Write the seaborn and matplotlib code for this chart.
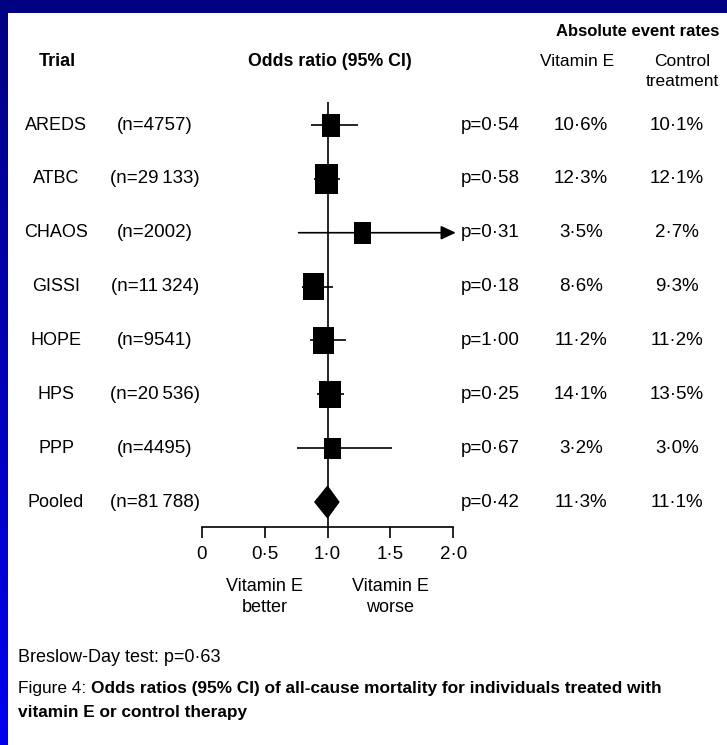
import numpy as np
import pandas as pd
import matplotlib
matplotlib.use("Agg")
import matplotlib.pyplot as plt
import matplotlib.transforms as mtransforms
from matplotlib.patches import Rectangle
from matplotlib.path import Path
from matplotlib.markers import MarkerStyle
from matplotlib.colors import LinearSegmentedColormap
import seaborn as sns

# ---------------- data ----------------
trials = ["AREDS", "ATBC", "CHAOS", "GISSI", "HOPE", "HPS", "PPP"]
n_labels = ["(n=4757)", "(n=29\u2009133)", "(n=2002)", "(n=11\u2009324)",
            "(n=9541)", "(n=20\u2009536)", "(n=4495)"]
odds_ratio = [1.03, 0.99, 1.28, 0.89, 0.97, 1.02, 1.04]
ci_low = [0.87, 0.89, 0.77, 0.80, 0.86, 0.92, 0.76]
ci_high = [1.24, 1.10, 2.60, 1.045, 1.15, 1.13, 1.51]
p_values = ["p=0\u00b754", "p=0\u00b758", "p=0\u00b731", "p=0\u00b718",
            "p=1\u00b700", "p=0\u00b725", "p=0\u00b767"]
rate_vitE = ["10\u00b76%", "12\u00b73%", "3\u00b75%", "8\u00b76%",
             "11\u00b72%", "14\u00b71%", "3\u00b72%"]
rate_ctrl = ["10\u00b71%", "12\u00b71%", "2\u00b77%", "9\u00b73%",
             "11\u00b72%", "13\u00b75%", "3\u00b70%"]

pooled_name = "Pooled"
pooled_n = "(n=81\u2009788)"
pooled_or = 1.00
pooled_low = 0.90
pooled_high = 1.09
pooled_p = "p=0\u00b742"
pooled_vitE = "11\u00b73%"
pooled_ctrl = "11\u00b71%"

x_ticks = [0, 0.5, 1.0, 1.5, 2.0]
x_tick_labels = ["0", "0\u00b75", "1\u00b70", "1\u00b75", "2\u00b70"]

# ---------------- styles ----------------
box_heights_px = [23, 30, 22, 27, 27, 27, 21]   # visual weight of each square
box_aspect = 0.78
diamond_half_h = 0.29
arrow_tip = 2.02
W, H = 727, 745
FONT = ["Liberation Sans Narrow", "Liberation Sans", "DejaVu Sans"]

sns.set_theme(style="white")
plt.rcParams["font.family"] = FONT
plt.rcParams["axes.unicode_minus"] = False
plt.rcParams["text.color"] = "black"

fig = plt.figure(figsize=(W / 100, H / 100), dpi=100)
fig.patch.set_facecolor("white")

# axes for the forest plot: x in odds ratio, y in row index
x0_px, x1_px = 201.7, 453.3
ytop_px, ybot_px = 102, 527
row0_px, row_step = 125, 53.86
ax = fig.add_axes([x0_px / W, 1 - ybot_px / H, (x1_px - x0_px) / W, (ybot_px - ytop_px) / H])
ax.patch.set_visible(False)

n_rows = len(trials) + 1
rows = np.arange(len(trials))
pooled_row = len(trials)

df = pd.DataFrame({"trial": trials, "or": odds_ratio, "row": rows,
                   "lo": ci_low, "hi": ci_high})

lw = 1.2
ax.axvline(1.0, color="black", lw=lw, zorder=1)

# confidence intervals
for r, lo, hi in zip(df["row"], df["lo"], df["hi"]):
    if hi > x_ticks[-1]:
        ax.annotate("", xy=(arrow_tip, r), xytext=(lo, r),
                    arrowprops=dict(arrowstyle="-|>,head_length=0.75,head_width=0.35",
                                    lw=lw, color="black", shrinkA=0, shrinkB=0,
                                    mutation_scale=12),
                    annotation_clip=False, zorder=2)
    else:
        ax.hlines(r, lo, hi, color="black", lw=lw, zorder=2)

# squares (seaborn scatter)
verts = [(-box_aspect / 2, -0.5), (box_aspect / 2, -0.5), (box_aspect / 2, 0.5),
         (-box_aspect / 2, 0.5), (-box_aspect / 2, -0.5)]
rect_marker = MarkerStyle(Path(verts, closed=True))
sizes = {t: (h * 0.72) ** 2 for t, h in zip(trials, box_heights_px)}
sns.scatterplot(data=df, x="or", y="row", size="trial", sizes=sizes,
                marker=rect_marker, color="black", edgecolor="black",
                linewidth=0, legend=False, ax=ax, zorder=3, clip_on=False)

# pooled diamond
ax.fill([pooled_low, pooled_or, pooled_high, pooled_or],
        [pooled_row, pooled_row - diamond_half_h, pooled_row, pooled_row + diamond_half_h],
        color="black", zorder=3, clip_on=False)

ax.set_xlim(x_ticks[0], x_ticks[-1])
ax.set_ylim((ybot_px - row0_px) / row_step, (ytop_px - row0_px) / row_step)
ax.set_xlabel("")
ax.set_ylabel("")
for s in ["top", "left", "right"]:
    ax.spines[s].set_visible(False)
ax.spines["bottom"].set_color("black")
ax.spines["bottom"].set_linewidth(lw)
ax.set_xticks(x_ticks)
ax.set_xticklabels(x_tick_labels)
ax.set_yticks([])
ax.tick_params(axis="x", direction="out", length=8, width=lw, pad=6,
               labelsize=13.5, colors="black", bottom=True)
ax.grid(False)

# text columns
trans = mtransforms.blended_transform_factory(fig.transFigure, ax.transData)
fs = 13.5
all_names = trials + [pooled_name]
all_n = n_labels + [pooled_n]
all_p = p_values + [pooled_p]
all_vE = rate_vitE + [pooled_vitE]
all_ct = rate_ctrl + [pooled_ctrl]
for i in range(n_rows):
    ax.text(56 / W, i, all_names[i], transform=trans, ha="center", va="center",
            fontsize=13, color="black", clip_on=False)
    ax.text(155 / W, i, all_n[i], transform=trans, ha="center", va="center",
            fontsize=fs, color="black", clip_on=False)
    ax.text(461 / W, i, all_p[i], transform=trans, ha="left", va="center",
            fontsize=fs, color="black", clip_on=False)
    ax.text(581 / W, i, all_vE[i], transform=trans, ha="center", va="center",
            fontsize=fs, color="black", clip_on=False)
    ax.text(677 / W, i, all_ct[i], transform=trans, ha="center", va="center",
            fontsize=fs, color="black", clip_on=False)

# below-axis labels
ax.text(0.5, (597 - row0_px) / row_step, "Vitamin E\nbetter", ha="center", va="center",
        fontsize=13, linespacing=1.35, color="black", clip_on=False)
ax.text(1.5, (597 - row0_px) / row_step, "Vitamin E\nworse", ha="center", va="center",
        fontsize=13, linespacing=1.35, color="black", clip_on=False)

# headers
def fy(px):
    return 1 - px / H

fig.text(57 / W, fy(61), "Trial", ha="center", va="center", fontsize=13, fontweight="bold")
fig.text(330 / W, fy(61), "Odds ratio (95% CI)", ha="center", va="center", fontsize=12.8,
         fontweight="bold")
fig.text(638 / W, fy(31), "Absolute event rates", ha="center", va="center", fontsize=12,
         fontweight="bold")
fig.text(577 / W, fy(61), "Vitamin E", ha="center", va="center", fontsize=12.5)
fig.text(682 / W, fy(61), "Control", ha="center", va="center", fontsize=12.5)
fig.text(682 / W, fy(81), "treatment", ha="center", va="center", fontsize=12.5)

# footer
fig.text(18 / W, fy(657), "Breslow-Day test: p=0\u00b763", ha="left", va="center", fontsize=13)
t1 = fig.text(18 / W, fy(688), "Figure 4: ", ha="left", va="center", fontsize=12.4)
fig.canvas.draw()
bb = t1.get_window_extent(renderer=fig.canvas.get_renderer())
fig.text(bb.x1 / W, fy(688),
         "Odds ratios (95% CI) of all-cause mortality for individuals treated with",
         ha="left", va="center", fontsize=12.4, fontweight="bold")
fig.text(18 / W, fy(713), "vitamin E or control therapy", ha="left", va="center",
         fontsize=12.4, fontweight="bold")

# blue frame
fig.patches.append(Rectangle((0, 1 - 13 / H), 1, 13 / H, transform=fig.transFigure,
                             facecolor="#000080", edgecolor="none", zorder=10))
bax = fig.add_axes([0, 0, 8 / W, 1])
grad = np.linspace(0, 1, 256).reshape(-1, 1)
cmap = LinearSegmentedColormap.from_list("frame", ["#000080", "#0000F0"])
bax.imshow(grad, aspect="auto", cmap=cmap, extent=[0, 1, 1, 0])
bax.set_axis_off()

fig.savefig("out.png", dpi=100, facecolor="white")
